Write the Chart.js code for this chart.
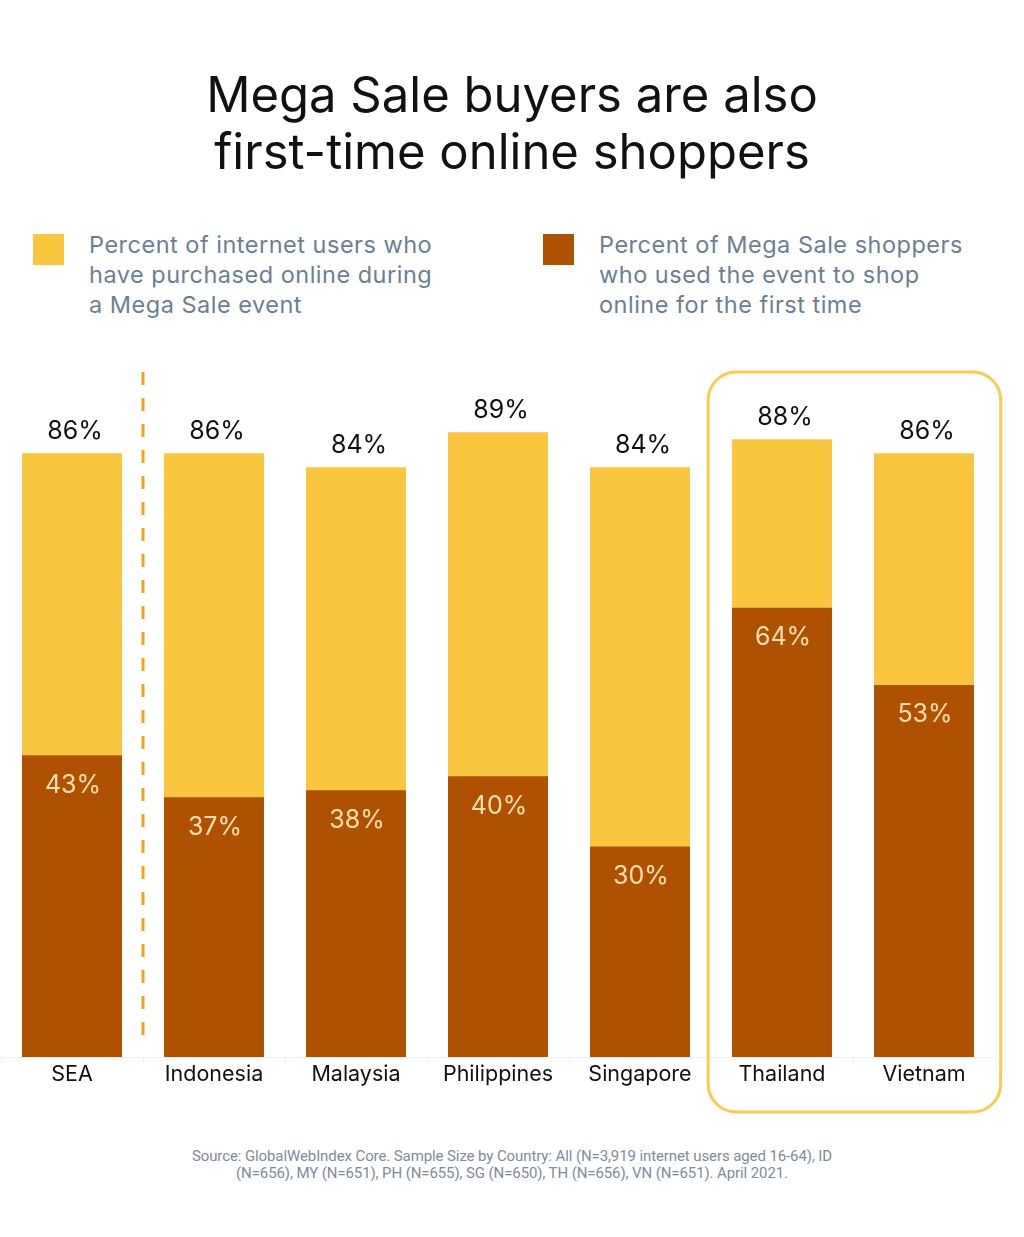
<!DOCTYPE html>
<html>
<head>
<meta charset="utf-8">
<script src="https://cdn.jsdelivr.net/npm/chart.js@4"></script>
<style>
  body { margin: 0; background: #fff; font-family: Inter, "Noto Sans", sans-serif; }
  #page { position: relative; width: 1024px; height: 1237px; overflow: hidden; }
  #title { position: absolute; top: 66px; left: 0; width: 1024px; text-align: center;
           font-size: 49px; line-height: 57px; color: #111; font-weight: 400; letter-spacing: 0px; }
  .legend { position: absolute; top: 230px; font-size: 23.5px; line-height: 30px; color: #6b7f92; letter-spacing: 0.5px; }
  .legend .sw { position: absolute; left: 0; top: 4px; width: 31px; height: 31px; }
  .legend .txt { position: absolute; left: 56px; top: 0; white-space: nowrap; }
  #chartBox { position: absolute; left: 0; top: 330px; width: 1024px; height: 800px; }
  #source { position: absolute; top: 1148px; left: 0; width: 1024px; text-align: center;
            font-family: Roboto, sans-serif; font-size: 15px; line-height: 17px; color: #7d8c9b; letter-spacing: -0.1px; }
</style>
</head>
<body>
<div id="page">
  <div id="title">Mega Sale buyers are also<br>first-time online shoppers</div>

  <div class="legend" style="left:33px">
    <div class="sw" style="background:#f9c63e"></div>
    <div class="txt">Percent of internet users who<br>have purchased online during<br>a Mega Sale event</div>
  </div>
  <div class="legend" style="left:543px">
    <div class="sw" style="background:#b05100"></div>
    <div class="txt">Percent of Mega Sale shoppers<br>who used the event to shop<br>online for the first time</div>
  </div>

  <div id="chartBox"><canvas id="megaChart"></canvas></div>

  <div id="source">Source: GlobalWebIndex Core. Sample Size by Country: All (N=3,919 internet users aged 16-64), ID<br>(N=656), MY (N=651), PH (N=655), SG (N=650), TH (N=656), VN (N=651). April 2021.</div>
</div>

<script>
const countries = ['SEA', 'Indonesia', 'Malaysia', 'Philippines', 'Singapore', 'Thailand', 'Vietnam'];
const purchasedDuringSale = [86, 86, 84, 89, 84, 88, 86];
const firstTimeShoppers = [43, 37, 38, 40, 30, 64, 53];
const yTicks = [0, 100];

const YELLOW = '#f9c63e';
const BROWN = '#b05100';

// labels on top of yellow bars, inside brown bars, plus the divider and highlight box
const decorPlugin = {
  id: 'decor',
  beforeDatasetsDraw(chart) {
    const ctx = chart.ctx;
    const x = chart.scales.x;
    const y = chart.scales.y;
    const step = x.getPixelForValue(1) - x.getPixelForValue(0);

    // dashed divider between SEA and the countries
    const divX = (x.getPixelForValue(0) + x.getPixelForValue(1)) / 2;
    ctx.save();
    ctx.strokeStyle = '#f2a31c';
    ctx.lineWidth = 3;
    ctx.setLineDash([13, 13]);
    ctx.beginPath();
    ctx.moveTo(divX, y.getPixelForValue(100) + 17);
    ctx.lineTo(divX, chart.chartArea.bottom - 10);
    ctx.stroke();
    ctx.restore();

    // rounded box around Thailand + Vietnam
    const left = x.getPixelForValue(5) - step * 0.52;
    const right = x.getPixelForValue(6) + step * 0.54;
    const top = y.getPixelForValue(100) + 17;
    const bottom = chart.chartArea.bottom + 55;
    ctx.save();
    ctx.strokeStyle = '#fbcb4c';
    ctx.lineWidth = 3;
    ctx.beginPath();
    ctx.roundRect(left, top, right - left, bottom - top, 28);
    ctx.stroke();
    ctx.restore();
  },
  afterDatasetsDraw(chart) {
    const ctx = chart.ctx;
    ctx.save();
    ctx.textAlign = 'center';
    ctx.textBaseline = 'middle';
    ctx.font = '25px Inter, "Noto Sans", sans-serif';

    chart.getDatasetMeta(0).data.forEach((bar, i) => {
      ctx.fillStyle = '#111';
      ctx.fillText(purchasedDuringSale[i] + '%', bar.x + 3, bar.y - 22);
    });
    chart.getDatasetMeta(1).data.forEach((bar, i) => {
      ctx.fillStyle = '#fde3b3';
      ctx.fillText(firstTimeShoppers[i] + '%', bar.x + 1, bar.y + 30);
    });
    ctx.restore();
  }
};

new Chart(document.getElementById('megaChart'), {
  type: 'bar',
  data: {
    labels: countries,
    datasets: [
      {
        label: 'Percent of internet users who have purchased online during a Mega Sale event',
        data: purchasedDuringSale,
        backgroundColor: YELLOW,
        grouped: false,
        order: 2
      },
      {
        label: 'Percent of Mega Sale shoppers who used the event to shop online for the first time',
        data: firstTimeShoppers,
        backgroundColor: BROWN,
        grouped: false,
        order: 1
      }
    ]
  },
  options: {
    responsive: true,
    maintainAspectRatio: false,
    animation: false,
    layout: { padding: { top: 25, bottom: 33, left: 1, right: 29 } },
    datasets: { bar: { categoryPercentage: 1, barPercentage: 0.704 } },
    plugins: {
      legend: { display: false },
      tooltip: { enabled: false }
    },
    scales: {
      x: {
        afterFit: (scale) => { scale.height = 40; },
        border: { color: '#efefef' },
        grid: { drawOnChartArea: false, tickLength: 6, color: '#efefef' },
        ticks: { color: '#111', font: { family: 'Inter', size: 21.5 }, padding: -1 }
      },
      y: {
        display: false,
        min: yTicks[0],
        max: yTicks[yTicks.length - 1]
      }
    }
  },
  plugins: [decorPlugin]
});
</script>
</body>
</html>
